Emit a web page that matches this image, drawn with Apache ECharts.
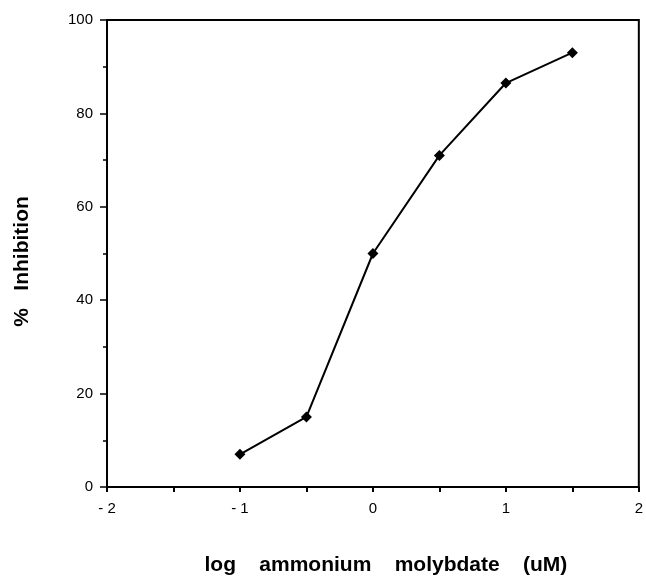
<!DOCTYPE html>
<html>
<head>
<meta charset="utf-8">
<script src="https://cdn.jsdelivr.net/npm/echarts@6/dist/echarts.min.js"></script>
<style>
  html, body { margin: 0; padding: 0; background: #fff; }
  #chart { width: 646px; height: 585px; }
</style>
</head>
<body>
<div id="chart"></div>
<script>
// log concentration (uM) and % inhibition
const logConc = [-1, -0.5, 0, 0.5, 1, 1.5];
const inhibition = [7, 15, 50, 71, 86.5, 93];
const xTitle = 'log    ammonium    molybdate    (uM)';
const yTitle = '%   Inhibition';

const chart = echarts.init(document.getElementById('chart'));

const ink = '#000';
const font = '"Liberation Sans", Arial, Helvetica, sans-serif';

const option = {
  backgroundColor: '#fff',
  animation: false,
  grid: {
    left: 107,
    right: 3,
    top: 20,
    bottom: 98,
    show: true,
    borderColor: ink,
    borderWidth: 2
  },
  xAxis: {
    type: 'value',
    min: -2,
    max: 2,
    interval: 0.5,
    name: xTitle,
    nameLocation: 'middle',
    nameGap: 68,
    nameTextStyle: {
      color: ink, fontSize: 21, fontWeight: 'bold', fontFamily: font,
      padding: [0, 0, 0, 26]
    },
    axisLine: { show: true, onZero: false, lineStyle: { color: ink, width: 2 } },
    axisTick: { show: true, inside: false, length: 5, lineStyle: { color: ink, width: 2 } },
    axisLabel: {
      color: ink,
      fontSize: 15,
      fontFamily: font,
      margin: 14,
      formatter(v) {
        if (!Number.isInteger(v)) return '';
        return v < 0 ? '- ' + Math.abs(v) : String(v);
      }
    },
    splitLine: { show: false }
  },
  yAxis: {
    type: 'value',
    min: 0,
    max: 100,
    interval: 20,
    name: yTitle,
    nameLocation: 'middle',
    nameGap: 74,
    nameTextStyle: {
      color: ink, fontSize: 21, fontWeight: 'bold', fontFamily: font,
      padding: [0, 16, 0, 0]
    },
    axisLine: { show: true, onZero: false, lineStyle: { color: ink, width: 2 } },
    axisTick: { show: true, inside: false, length: 7, lineStyle: { color: ink, width: 1.5 } },
    minorTick: { show: true, splitNumber: 2, length: 4, lineStyle: { color: ink, width: 1.5 } },
    axisLabel: { color: ink, fontSize: 15, fontFamily: font, margin: 14 },
    splitLine: { show: false }
  },
  series: [
    {
      type: 'line',
      data: logConc.map((x, i) => [x, inhibition[i]]),
      symbol: 'diamond',
      symbolSize: 11,
      lineStyle: { color: ink, width: 2 },
      itemStyle: { color: ink }
    }
  ]
};

chart.setOption(option);
window.addEventListener('resize', () => chart.resize());
</script>
</body>
</html>
